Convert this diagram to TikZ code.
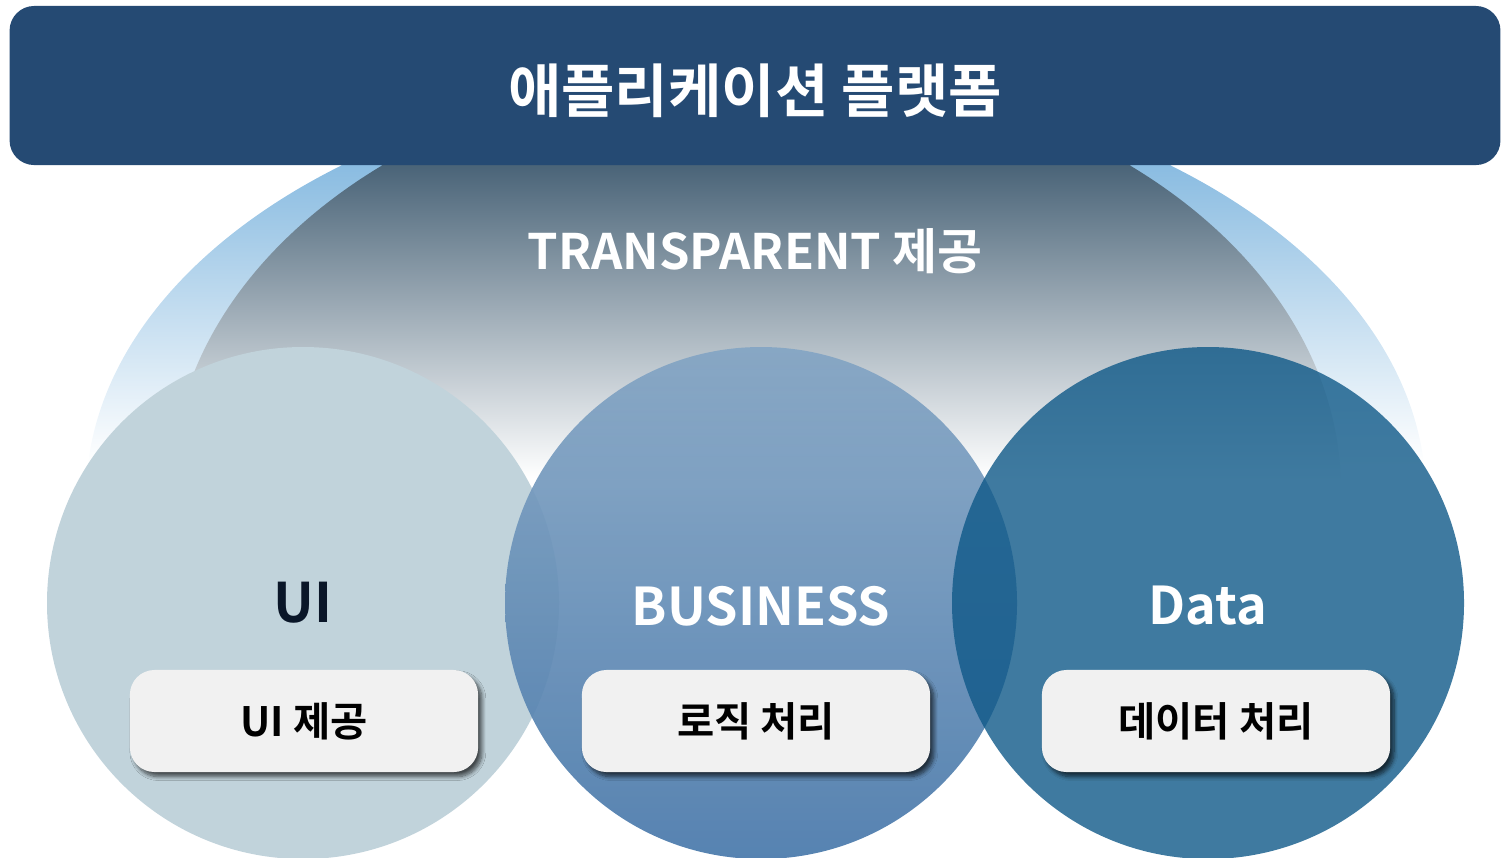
\documentclass[tikz,border=0pt]{standalone}
\usepackage{fontspec}
\setmainfont{Noto Sans CJK KR}[BoldFont={Noto Sans CJK KR Bold}]
\usetikzlibrary{shadows.blur}

\definecolor{bannerblue}{HTML}{254A73}
\definecolor{haloblue}{HTML}{8ABCE1}
\definecolor{mistgray}{HTML}{4A6478}
\definecolor{uifill}{HTML}{C1D3DB}
\definecolor{biztop}{HTML}{84A5C4}
\definecolor{bizbot}{HTML}{4878AA}
\definecolor{datafill}{HTML}{0F5988}
\definecolor{boxfill}{HTML}{F1F1F1}
\definecolor{uitext}{HTML}{0A1628}

\tikzset{
  labelbox/.style={draw=none, fill=boxfill, rounded corners=7pt,
    minimum width=3.48cm, minimum height=1.02cm, inner sep=0pt,
    font=\bfseries\fontsize{11.5}{13}\selectfont, text=black,
    blur shadow={shadow xshift=1.1pt, shadow yshift=-1.3pt,
      shadow blur radius=1.1pt, shadow blur steps=8, shadow opacity=65}},
  circletitle/.style={font=\bfseries\fontsize{14.8}{18}\selectfont, inner sep=0pt},
}

\begin{document}
\begin{tikzpicture}[x=0.01cm, y=0.01cm]
\useasboundingbox (0,0) rectangle (1501,-857);

% outer halo ellipse, fading to white downwards
\begin{scope}
  \clip (756,-497) ellipse [x radius=670, y radius=422];
  \fill[haloblue] (0,0) rectangle (1501,-166);
  \shade[top color=haloblue, bottom color=white] (0,-165) rectangle (1501,-463);
\end{scope}

% inner grey ellipse, fading to white downwards
\begin{scope}
  \clip (756,-490) ellipse [x radius=585, y radius=422];
  \fill[mistgray] (0,0) rectangle (1501,-166);
  \shade[top color=mistgray, bottom color=white] (0,-165) rectangle (1501,-478);
\end{scope}

\node[font=\bfseries\fontsize{13.9}{17}\selectfont, text=white, inner sep=0pt]
  (transp) at (755,-251) {TRANSPARENT 제공};

% the three layer circles
\fill[uifill] (303,-603) circle [radius=256];
\shade[top color=biztop, bottom color=bizbot, opacity=0.92]
  (761,-603) circle [radius=256];
\fill[datafill, opacity=0.8] (1208,-603) circle [radius=256];

\node[circletitle, text=uitext, font=\bfseries\fontsize{15.5}{18}\selectfont]
  (ui) at (303,-603) {UI};
\node[circletitle, text=white] (biz) at (761,-606) {BUSINESS};
\node[circletitle, text=white] (data) at (1208,-606) {Data};

\node[labelbox] (uibox) at (304,-721) {\raisebox{-1.5pt}{UI 제공}};
\node[labelbox] (bizbox) at (756,-721) {\raisebox{-1.5pt}{로직 처리}};
\node[labelbox] (databox) at (1216,-721) {\raisebox{-1.5pt}{데이터 처리}};

% top banner
\node[fill=bannerblue, rounded corners=7pt, minimum width=14.90cm,
  minimum height=1.59cm, inner sep=0pt] (banner) at (755,-85.5) {};
\node[font=\bfseries\fontsize{16.5}{19}\selectfont, text=white, inner sep=0pt]
  (title) at (755,-91) {애플리케이션 플랫폼};
\end{tikzpicture}
\end{document}
